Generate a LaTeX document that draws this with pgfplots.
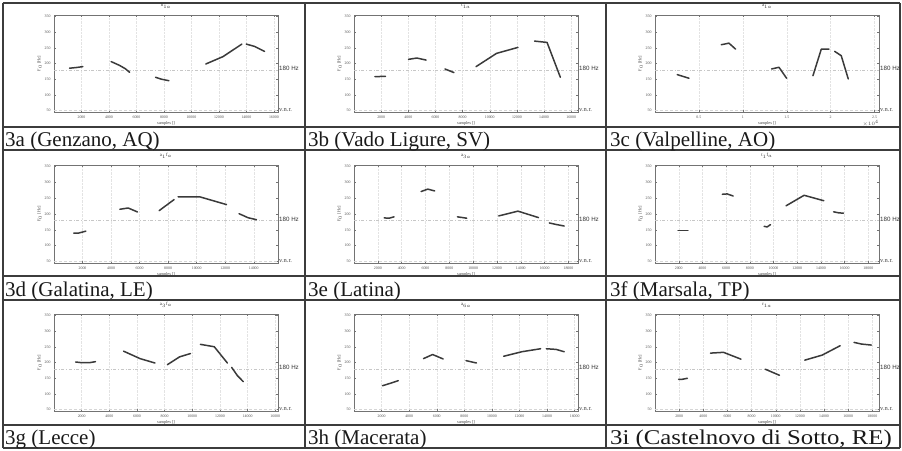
\documentclass[border=0pt]{standalone}
\usepackage{fontspec}
\setmainfont{Liberation Serif}
\setsansfont{Liberation Sans}
\usepackage{pgfplots}
\pgfplotsset{compat=1.18}
\definecolor{dataline}{HTML}{3A3A3A}
\definecolor{tableline}{HTML}{3C3C3C}
\pgfplotsset{
  panel/.style={
    scale only axis, width=224pt, height=97pt,
    ymin=45, ymax=355, ytick={50,100,...,350},
    xmin=0,
    anchor=south west,
    clip=false,
    tick align=inside,
    major tick length=1.6pt,
    xmajorgrids,
    grid style={densely dotted, black!11, line width=0.4pt},
    axis line style={black!55, line width=0.45pt},
    every tick/.style={black!55, line width=0.4pt},
    tick label style={font=\fontsize{3.9}{4}\selectfont, text=black!70},
    /pgf/number format/assume math mode=true,
    /pgf/number format/set thousands separator={},
    scaled x ticks=false,
    xlabel={samples []}, ylabel={F$_0$ [Hz]},
    label style={font=\fontsize{4.3}{5}\selectfont, text=black!75},
    xlabel style={yshift=3.5pt},
    ylabel style={yshift=-4pt},
    title style={font=\fontsize{4.8}{5}\selectfont, text=black!80, yshift=-3pt},
  },
  seg/.style={dataline, line width=1.5pt, no marks, line join=round, line cap=round},
  refline/.style={dash dot, black!22, line width=0.5pt, forget plot},
  vnrline/.style={densely dashed, black!16, line width=0.4pt, forget plot},
}
\newcommand{\hzlabel}{\node[anchor=west, font=\sffamily\fontsize{6.2}{7}\selectfont, text=black!80, inner sep=1pt] at (rel axis cs:1,0.4452) {180 Hz};
  \node[anchor=west, font=\fontsize{6.5}{7}\selectfont, text=black!75, inner sep=1pt] at (rel axis cs:1,0.0161) {v.n.r.};}
\begin{document}
\begin{tikzpicture}
\path[use as bounding box] (0pt,0pt) rectangle (902pt,-450pt);
% table lines
\begin{scope}[draw=tableline, line width=1.5pt]
\draw (2.5pt,-3pt) -- (900pt,-3pt);
\draw (2.5pt,-127pt) -- (900pt,-127pt);
\draw (2.5pt,-150pt) -- (900pt,-150pt);
\draw (2.5pt,-276pt) -- (900pt,-276pt);
\draw (2.5pt,-300pt) -- (900pt,-300pt);
\draw (2.5pt,-425pt) -- (900pt,-425pt);
\draw (2.5pt,-448pt) -- (900pt,-448pt);
\draw (3pt,-3pt) -- (3pt,-448pt);
\draw (305pt,-3pt) -- (305pt,-448pt);
\draw (606pt,-3pt) -- (606pt,-448pt);
\draw (900pt,-3pt) -- (900pt,-448pt);
\end{scope}
% captions
\begin{scope}[every node/.style={anchor=base west, inner sep=0pt, font=\fontsize{21}{24}\selectfont, text=black!90}]
\node at (5pt,-146pt) {3a (Genzano, AQ)};
\node at (308pt,-146pt) {3b (Vado Ligure, SV)};
\node at (610pt,-146pt) {3c (Valpelline, AO)};
\node at (5pt,-296pt) {3d (Galatina, LE)};
\node at (308pt,-296pt) {3e (Latina)};
\node at (610pt,-296pt) {3f (Marsala, TP)};
\node at (5pt,-444pt) {3g (Lecce)};
\node at (308pt,-444pt) {3h (Macerata)};
\node[xscale=1.18] at (610pt,-444pt) {3i (Castelnovo di Sotto, RE)};
\end{scope}

% ---------- 3a
\begin{axis}[panel, at={(54pt,-112pt)}, xmax=16300, xtick={2000,4000,...,16000}, title={h$_{1a}$}]
\addplot[refline] coordinates {(0,180) (16300,180)};
\addplot[vnrline] coordinates {(0,50) (16300,50)};
\addplot[seg] coordinates {(1130,185) (1600,187) (2100,190)};
\addplot[seg] coordinates {(4160,206) (4770,194) (5200,183) (5500,172)};
\addplot[seg] coordinates {(7390,156) (7800,150) (8360,145)};
\addplot[seg] coordinates {(11050,198.5) (12290,221.8) (13670,262)};
\addplot[seg] coordinates {(13990,262) (14590,254.7) (15320,238.8)};
\hzlabel
\end{axis}

% ---------- 3b
\begin{axis}[panel, at={(354pt,-112pt)}, xmax=16500, xtick={2000,4000,...,16000}, title={t$_{1a}$}]
\addplot[refline] coordinates {(0,180) (16500,180)};
\addplot[vnrline] coordinates {(0,50) (16500,50)};
\addplot[seg] coordinates {(1540,158) (2320,159)};
\addplot[seg] coordinates {(4020,213.3) (4630,217.5) (5310,211)};
\addplot[seg] coordinates {(6700,182.5) (7360,171)};
\addplot[seg] coordinates {(8990,190) (10500,232.4) (12080,251.5)};
\addplot[seg] coordinates {(13300,271.6) (14220,267.4) (15200,156)};
\hzlabel
\end{axis}

% ---------- 3c
\begin{axis}[panel, at={(655pt,-112pt)}, xmax=2.55, xtick={0.5,1,1.5,2,2.5}, xticklabels={0.5,1,1.5,2,2.5}, title={a$_{1a}$}]
\addplot[refline] coordinates {(0,180) (2.55,180)};
\addplot[vnrline] coordinates {(0,50) (2.55,50)};
\addplot[seg] coordinates {(0.253,164.5) (0.386,152.9)};
\addplot[seg] coordinates {(0.754,260) (0.842,265) (0.917,246)};
\addplot[seg] coordinates {(1.327,182.5) (1.411,188) (1.498,152.9)};
\addplot[seg] coordinates {(1.798,161) (1.893,246) (1.980,246)};
\addplot[seg] coordinates {(2.045,238.8) (2.120,225) (2.200,150.7)};
\hzlabel
\node[anchor=north east, font=\fontsize{3.9}{4}\selectfont, text=black!70, inner sep=0pt] at ([yshift=-8.5pt]rel axis cs:1,0) {$\times10^{4}$};
\end{axis}

% ---------- 3d
\begin{axis}[panel, at={(54pt,-263pt)}, height=98pt, xmax=15700, xtick={2000,4000,...,14000}, title={a$_{1}$f$_{a}$}]
\addplot[refline] coordinates {(0,180) (15700,180)};
\addplot[vnrline] coordinates {(0,50) (15700,50)};
\addplot[seg] coordinates {(1390,139.4) (1700,139.4) (2230,145.7)};
\addplot[seg] coordinates {(4615,215) (5200,219) (5850,206.4)};
\addplot[seg] coordinates {(7370,210.6) (7880,227.7) (8420,245.7)};
\addplot[seg] coordinates {(8700,254.3) (10220,254.3) (12090,229.8)};
\addplot[seg] coordinates {(12970,201) (13600,188.3) (14190,182)};
\hzlabel
\end{axis}

% ---------- 3e
\begin{axis}[panel, at={(354pt,-263pt)}, height=98pt, xmax=18800, xtick={2000,4000,...,18000}, title={a$_{3a}$}]
\addplot[refline] coordinates {(0,180) (18800,180)};
\addplot[vnrline] coordinates {(0,50) (18800,50)};
\addplot[seg] coordinates {(2530,187.7) (2940,186.6) (3360,191)};
\addplot[seg] coordinates {(5630,271) (6190,278.7) (6770,273)};
\addplot[seg] coordinates {(8680,191) (9060,189) (9460,186.6)};
\addplot[seg] coordinates {(12150,194) (13760,209) (15480,188.7)};
\addplot[seg] coordinates {(16390,171.7) (16950,167) (17640,162)};
\hzlabel
\end{axis}

% ---------- 3f
\begin{axis}[panel, at={(655pt,-263pt)}, height=98pt, xmax=18900, xtick={2000,4000,...,18000}, title={t$_{1}$f$_{a}$}]
\addplot[refline] coordinates {(0,180) (18900,180)};
\addplot[vnrline] coordinates {(0,50) (18900,50)};
\addplot[seg] coordinates {(1945,148) (2775,148)};
\addplot[seg] coordinates {(5675,262.4) (6090,263.5) (6590,257)};
\addplot[seg] coordinates {(9210,161) (9460,159) (9740,166.4)};
\addplot[seg] coordinates {(11060,226) (12580,259.2) (14240,242)};
\addplot[seg] coordinates {(15070,206.9) (15490,203.7) (15900,202.6)};
\hzlabel
\end{axis}

% ---------- 3g
\begin{axis}[panel, at={(54pt,-411pt)}, xmax=16200, xtick={2000,4000,...,16000}, title={a$_{3}$f$_{a}$}]
\addplot[refline] coordinates {(0,180) (16200,180)};
\addplot[vnrline] coordinates {(0,50) (16200,50)};
\addplot[seg] coordinates {(1570,201.6) (1980,199.5) (2570,199.5) (3000,202.7)};
\addplot[seg] coordinates {(5030,236.3) (6220,212.5) (7300,198.4)};
\addplot[seg] coordinates {(8200,193) (9080,218) (9870,228.7)};
\addplot[seg] coordinates {(10590,258) (11590,250.4) (12540,198.4)};
\addplot[seg] coordinates {(12850,184.3) (13260,158.3) (13690,138.8)};
\hzlabel
\end{axis}

% ---------- 3h
\begin{axis}[panel, at={(354pt,-411pt)}, xmax=16240, xtick={2000,4000,...,16000}, title={a$_{6a}$}]
\addplot[refline] coordinates {(0,180) (16240,180)};
\addplot[vnrline] coordinates {(0,50) (16240,50)};
\addplot[seg] coordinates {(2070,125.8) (2620,133.4) (3210,142)};
\addplot[seg] coordinates {(5040,212.5) (5700,225.5) (6460,211.4)};
\addplot[seg] coordinates {(8120,206) (8880,198.4)};
\addplot[seg] coordinates {(10850,220) (12160,234.4) (13530,244)};
\addplot[seg] coordinates {(13940,244) (14650,241.9) (15240,234.4)};
\hzlabel
\end{axis}

% ---------- 3i
\begin{axis}[panel, at={(655pt,-411pt)}, xmax=18550, xtick={2000,4000,...,18000}, title={r$_{1a}$}]
\addplot[refline] coordinates {(0,180) (18550,180)};
\addplot[vnrline] coordinates {(0,50) (18550,50)};
\addplot[seg] coordinates {(1950,146.4) (2270,146.4) (2680,149.6)};
\addplot[seg] coordinates {(4590,230) (5670,232.5) (7120,210.7)};
\addplot[seg] coordinates {(9130,178.6) (10300,159.3)};
\addplot[seg] coordinates {(12400,207.5) (13840,223.6) (15330,253.6)};
\addplot[seg] coordinates {(16480,264.3) (17100,259) (17920,255.7)};
\hzlabel
\end{axis}
\end{tikzpicture}
\end{document}
